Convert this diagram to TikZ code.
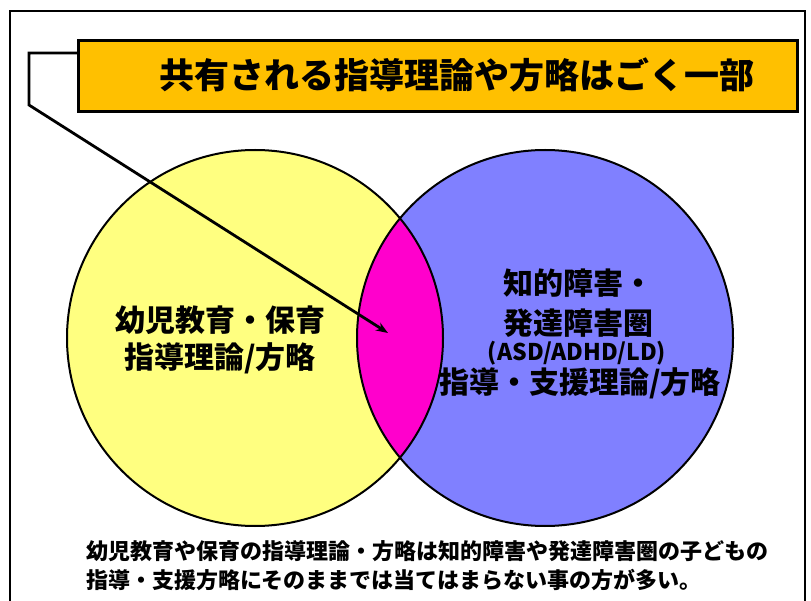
\documentclass[tikz,border=0pt]{standalone}
\usepackage{fontspec}
\newfontfamily\jp{Noto Sans CJK JP}
\usetikzlibrary{arrows.meta}
\definecolor{cyel}{HTML}{FFFF80}
\definecolor{cblu}{HTML}{8080FF}
\definecolor{cmag}{HTML}{FF00CC}
\definecolor{corg}{HTML}{FFC000}
\tikzset{
  lbl/.style={font=\jp\bfseries\fontsize{30}{37}\selectfont, align=center, inner sep=0pt},
  outline/.style={draw=black, line width=2pt},
}
\begin{document}
\begin{tikzpicture}[x=1pt,y=-1pt]
\useasboundingbox (0,0) rectangle (811,601);
\fill[white] (0,0) rectangle (811,601);
% frame
\draw[line width=2pt] (10,601) -- (10,11) -- (805,11) -- (805,601);
% circles
\fill[cyel] (255,338) circle[radius=188pt];
\fill[cblu] (545,338) circle[radius=188pt];
\begin{scope}
  \clip (255,338) circle[radius=188pt];
  \fill[cmag] (545,338) circle[radius=188pt];
\end{scope}
\draw[outline] (255,338) circle[radius=188pt];
\draw[outline] (545,338) circle[radius=188pt];
% labels in circles
\node[lbl] (left) at (220,340) {幼児教育・保育\\指導理論/方略};
\node[lbl, font=\jp\bfseries\fontsize{30}{40}\selectfont] (r1) at (578,303) {知的障害・\\発達障害圏};
\node[lbl, font=\jp\bfseries\fontsize{23}{26}\selectfont] (r2) at (577,353) {(ASD/ADHD/LD)};
\node[lbl] (r3) at (580,383) {指導・支援理論/方略};
% title box
\node[draw=black, line width=3pt, fill=corg, minimum width=719pt, minimum height=71pt, inner sep=0pt] (title) at (437.5,76) {};
\node[lbl, font=\jp\bfseries\fontsize{35}{40}\selectfont] (ttext) at (457,75) {共有される指導理論や方略はごく一部};
% callout
\coordinate (c0) at (78,53);
\coordinate (c1) at (29,53);
\coordinate (c2) at (29,105);
\coordinate (tip) at (388,333);
\draw[line width=2.8pt, -{Stealth[length=12pt,width=9pt]}] (c0) -- (c1) -- (c2) -- (tip);
% bottom text
\node[font=\jp\bfseries\fontsize{22}{29}\selectfont, align=left, anchor=west, inner sep=0pt] (note) at (86,566) {幼児教育や保育の指導理論・方略は知的障害や発達障害圏の子どもの\\指導・支援方略にそのままでは当てはまらない事の方が多い。};
\end{tikzpicture}
\end{document}
